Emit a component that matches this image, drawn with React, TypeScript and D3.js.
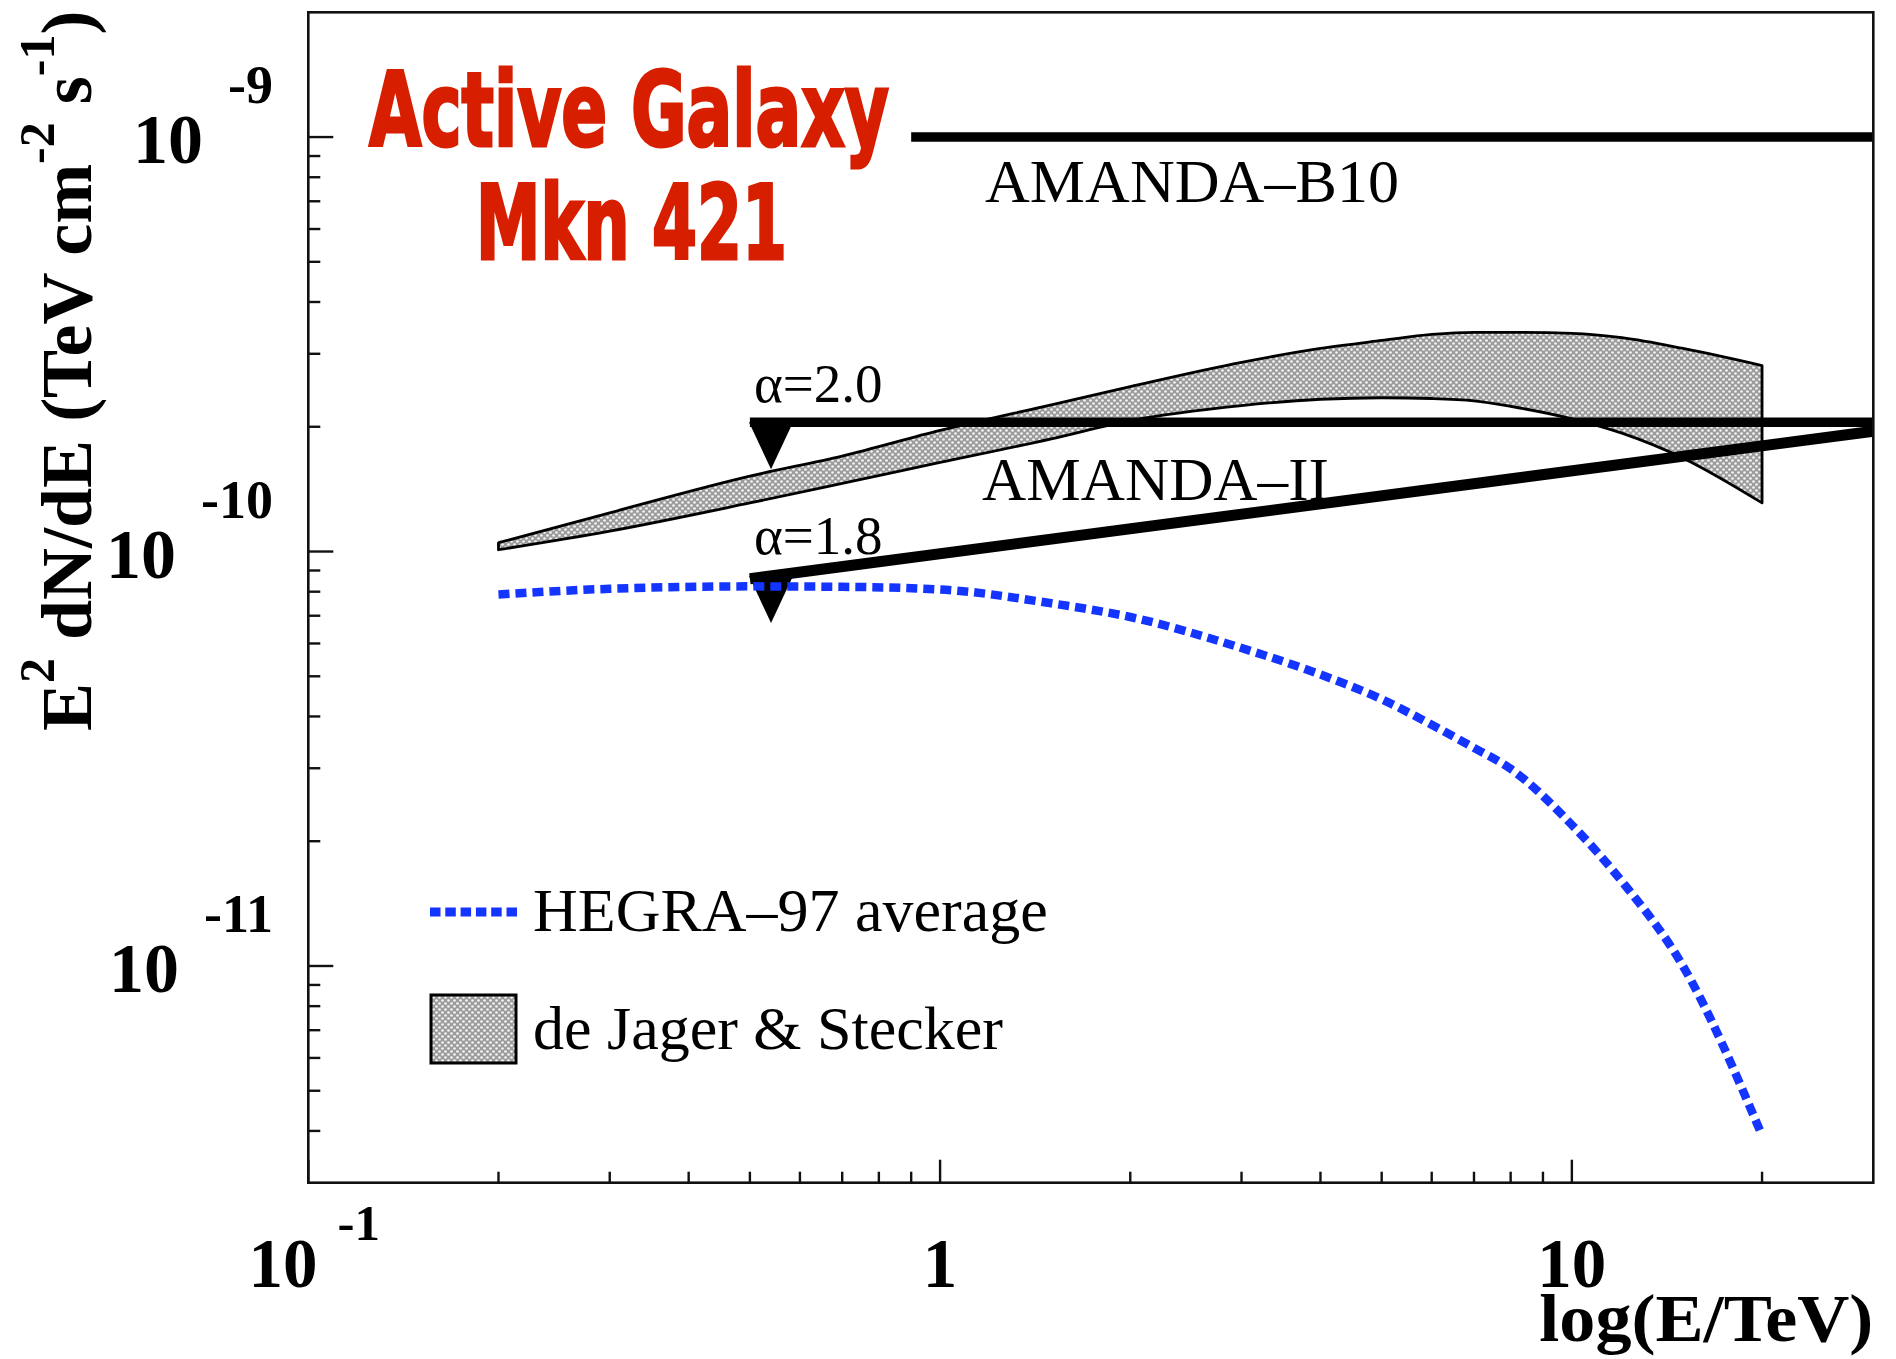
import React from 'react';
import * as d3 from 'd3';

// Canvas and plot frame
const W = 1896;
const H = 1359;
const FRAME = { left: 308.3, right: 1873.3, top: 12.3, bottom: 1182.7 };

// Axis domains (TeV and TeV cm^-2 s^-1)
const X_DOMAIN: [number, number] = [0.1, 30];
const Y_DOMAIN: [number, number] = [3e-12, 2e-9];

// Major tick labels
const xTickValues = [0.1, 1, 10];
const xTickBase = ['10', '1', '10'];
const xTickExp = ['-1', '', ''];
const yTickValues = [1e-9, 1e-10, 1e-11];
const yTickExp = ['-9', '-10', '-11'];

// de Jager & Stecker prediction band
const bandEnergy = [0.2, 0.3, 0.5, 0.7, 1, 1.5, 2, 3, 4, 5, 6, 7, 8, 10, 12, 15, 20];
const bandUpper = [1.05e-10, 1.24e-10, 1.52e-10, 1.7e-10, 1.96e-10, 2.26e-10, 2.5e-10, 2.86e-10, 3.09e-10, 3.23e-10, 3.34e-10, 3.38e-10, 3.38e-10, 3.36e-10, 3.28e-10, 3.09e-10, 2.81e-10];
const bandLower = [1.01e-10, 1.12e-10, 1.31e-10, 1.46e-10, 1.64e-10, 1.87e-10, 2.07e-10, 2.25e-10, 2.33e-10, 2.35e-10, 2.34e-10, 2.31e-10, 2.24e-10, 2.09e-10, 1.93e-10, 1.68e-10, 1.31e-10];

// HEGRA-97 average spectrum
const hegraEnergy = [0.2, 0.3, 0.5, 0.7, 1, 1.5, 2, 3, 4, 5, 6, 7, 8, 10, 12, 15, 20];
const hegraFlux = [7.88e-11, 8.13e-11, 8.24e-11, 8.22e-11, 8.1e-11, 7.5e-11, 6.95e-11, 5.85e-11, 5.05e-11, 4.4e-11, 3.82e-11, 3.36e-11, 2.99e-11, 2.19e-11, 1.6e-11, 9.98e-12, 3.9e-12];

// AMANDA upper limits
const amandaB10Energy = [0.9, 30];
const amandaB10Flux = [1.0e-9, 1.0e-9];
const alpha20Energy = [0.5, 30];
const alpha20Flux = [2.05e-10, 2.05e-10];
const alpha18Energy = [0.5, 30];
const alpha18Flux = [8.6e-11, 1.95e-10];
const limitMarkerEnergy = 0.54;

const SERIF = "'Liberation Serif', 'Times New Roman', serif";
const TITLE_FONT = "'DejaVu Sans Condensed', 'DejaVu Sans', sans-serif";
const BLUE = '#1434ff';
const RED = '#d71f00';

const x = d3.scaleLog().domain(X_DOMAIN).range([FRAME.left, FRAME.right]);
const y = d3.scaleLog().domain(Y_DOMAIN).range([FRAME.bottom, FRAME.top]);

function minorTicks(domain: [number, number]): number[] {
  const out: number[] = [];
  const lo = Math.floor(Math.log10(domain[0]));
  const hi = Math.ceil(Math.log10(domain[1]));
  for (let d = lo; d <= hi; d++) {
    for (let k = 2; k <= 9; k++) {
      const v = k * Math.pow(10, d);
      if (v > domain[0] * 1.0001 && v < domain[1] * 0.9999) out.push(v);
    }
  }
  return out;
}

// flux of a power-law segment at energy e (log-log interpolation)
function logInterp(es: number[], fs: number[], e: number): number {
  const t = (Math.log(e) - Math.log(es[0])) / (Math.log(es[1]) - Math.log(es[0]));
  return Math.exp(Math.log(fs[0]) + t * (Math.log(fs[1]) - Math.log(fs[0])));
}

function triangle(cx: number, cy: number): string {
  const hw = 22;
  const depth = 47;
  return `M${cx - hw},${cy} L${cx + hw},${cy} L${cx},${cy + depth} Z`;
}

export default function App() {
  const pairs = (es: number[], fs: number[]) => es.map((e, i) => [e, fs[i]] as [number, number]);

  const smooth = d3
    .line<[number, number]>()
    .x((d) => x(d[0]))
    .y((d) => y(d[1]))
    .curve(d3.curveMonotoneX);

  const straight = d3
    .line<[number, number]>()
    .x((d) => x(d[0]))
    .y((d) => y(d[1]));

  const bandArea = d3
    .area<number>()
    .x((_, i) => x(bandEnergy[i]))
    .y0((_, i) => y(bandLower[i]))
    .y1((_, i) => y(bandUpper[i]))
    .curve(d3.curveMonotoneX);

  const xMinor = minorTicks(X_DOMAIN);
  const yMinor = minorTicks(Y_DOMAIN);

  const m20 = logInterp(alpha20Energy, alpha20Flux, limitMarkerEnergy);
  const m18 = logInterp(alpha18Energy, alpha18Flux, limitMarkerEnergy);

  return (
    <svg
      width={W}
      height={H}
      viewBox={`0 0 ${W} ${H}`}
      style={{ position: 'absolute', left: 0, top: 0, display: 'block', background: '#fff' }}
    >
      <defs>
        <pattern id="hatch" width="6" height="6" patternUnits="userSpaceOnUse">
          <rect width="6" height="6" fill="#9c9c9c" />
          <circle cx="1.5" cy="1.5" r="1.35" fill="#f4f4f4" />
          <circle cx="4.5" cy="4.5" r="1.35" fill="#f4f4f4" />
        </pattern>
        <clipPath id="plotClip">
          <rect x={FRAME.left} y={FRAME.top} width={FRAME.right - FRAME.left} height={FRAME.bottom - FRAME.top} />
        </clipPath>
      </defs>

      {/* prediction band */}
      <path d={bandArea(bandEnergy) || ''} fill="url(#hatch)" stroke="#000" strokeWidth={2.8} strokeLinejoin="round" />

      <g clipPath="url(#plotClip)">
        {/* AMANDA-B10 limit */}
        <path d={straight(pairs(amandaB10Energy, amandaB10Flux)) || ''} stroke="#000" strokeWidth={9.5} fill="none" />
        {/* AMANDA-II limits */}
        <path d={straight(pairs(alpha20Energy, alpha20Flux)) || ''} stroke="#000" strokeWidth={9.5} fill="none" />
        <path d={straight(pairs(alpha18Energy, alpha18Flux)) || ''} stroke="#000" strokeWidth={11} fill="none" />
        <path d={triangle(x(limitMarkerEnergy), y(m20))} fill="#000" />
        <path d={triangle(x(limitMarkerEnergy), y(m18))} fill="#000" />

        {/* HEGRA-97 */}
        <path
          d={smooth(pairs(hegraEnergy, hegraFlux)) || ''}
          stroke={BLUE}
          strokeWidth={8.5}
          strokeDasharray="11 6"
          fill="none"
        />
      </g>

      {/* frame */}
      <rect
        x={FRAME.left}
        y={FRAME.top}
        width={FRAME.right - FRAME.left}
        height={FRAME.bottom - FRAME.top}
        fill="none"
        stroke="#111"
        strokeWidth={2.6}
      />

      {/* x ticks */}
      {xTickValues.map((v) => (
        <line key={`xM${v}`} x1={x(v)} x2={x(v)} y1={FRAME.bottom} y2={FRAME.bottom - 23} stroke="#111" strokeWidth={2.4} />
      ))}
      {xMinor.map((v) => (
        <line key={`xm${v}`} x1={x(v)} x2={x(v)} y1={FRAME.bottom} y2={FRAME.bottom - 11} stroke="#111" strokeWidth={2.4} />
      ))}
      {/* y ticks */}
      {yTickValues.map((v) => (
        <line key={`yM${v}`} x1={FRAME.left} x2={FRAME.left + 25} y1={y(v)} y2={y(v)} stroke="#111" strokeWidth={2.4} />
      ))}
      {yMinor.map((v) => (
        <line key={`ym${v}`} x1={FRAME.left} x2={FRAME.left + 12} y1={y(v)} y2={y(v)} stroke="#111" strokeWidth={2.4} />
      ))}

      {/* x tick labels */}
      {xTickValues.map((v, i) => (
        <text
          key={`xl${v}`}
          x={x(v) + (xTickExp[i] ? 6 : 0)}
          y={1287}
          textAnchor="middle"
          fontFamily={SERIF}
          fontWeight="bold"
          fontSize={69}
          fill="#000"
        >
          <tspan>{xTickBase[i]}</tspan>
          {xTickExp[i] ? (
            <tspan dx={20} dy={-47} fontSize={51}>
              {xTickExp[i]}
            </tspan>
          ) : null}
        </text>
      ))}

      {/* y tick labels */}
      {yTickValues.map((v, i) => (
        <text
          key={`yl${v}`}
          x={273}
          y={y(v) + 26}
          textAnchor="end"
          fontFamily={SERIF}
          fontWeight="bold"
          fontSize={70}
          fill="#000"
        >
          <tspan>10</tspan>
          <tspan dx={25} dy={-60} fontSize={54}>
            {yTickExp[i]}
          </tspan>
        </text>
      ))}

      {/* axis titles */}
      <text
        x={FRAME.right}
        y={1341}
        textAnchor="end"
        fontFamily={SERIF}
        fontWeight="bold"
        fontSize={68}
        textLength={334}
        lengthAdjust="spacingAndGlyphs"
        fill="#000"
      >
        log(E/TeV)
      </text>
      <text
        transform="translate(91,731) rotate(-90)"
        fontFamily={SERIF}
        fontWeight="bold"
        fontSize={72}
        fill="#000"
      >
        <tspan>E</tspan>
        <tspan dy={-37} fontSize={50}>2</tspan>
        <tspan dy={37}> dN/dE (TeV cm</tspan>
        <tspan dy={-37} fontSize={50}>-2</tspan>
        <tspan dy={37}> s</tspan>
        <tspan dy={-37} fontSize={50}>-1</tspan>
        <tspan dy={37}>)</tspan>
      </text>

      {/* curve labels */}
      <text x={985} y={202} fontFamily={SERIF} fontSize={61} textLength={414} lengthAdjust="spacingAndGlyphs" fill="#000">
        AMANDA–B10
      </text>
      <text x={982} y={500} fontFamily={SERIF} fontSize={61} textLength={347} lengthAdjust="spacingAndGlyphs" fill="#000">
        AMANDA–II
      </text>
      <text x={754} y={402} fontFamily={SERIF} fontSize={55} fill="#000">
        α=2.0
      </text>
      <text x={754} y={554} fontFamily={SERIF} fontSize={55} fill="#000">
        α=1.8
      </text>

      {/* source title */}
      <text
        x={369}
        y={146}
        fontFamily={TITLE_FONT}
        fontWeight="bold"
        fontSize={104}
        fill={RED}
        stroke={RED}
        strokeWidth={3}
        textLength={520}
        lengthAdjust="spacingAndGlyphs"
      >
        Active Galaxy
      </text>
      <text
        x={476}
        y={259}
        fontFamily={TITLE_FONT}
        fontWeight="bold"
        fontSize={104}
        fill={RED}
        stroke={RED}
        strokeWidth={3}
        textLength={311}
        lengthAdjust="spacingAndGlyphs"
      >
        Mkn 421
      </text>

      {/* legend */}
      <line x1={430} x2={517} y1={912} y2={912} stroke={BLUE} strokeWidth={9} strokeDasharray="10.5 4.8" />
      <text x={533} y={931} fontFamily={SERIF} fontSize={62} fill="#000">
        HEGRA–97 average
      </text>
      <rect x={431} y={995} width={85} height={68} fill="url(#hatch)" stroke="#000" strokeWidth={3} />
      <text x={533} y={1049} fontFamily={SERIF} fontSize={62} fill="#000">
        de Jager &amp; Stecker
      </text>
    </svg>
  );
}
